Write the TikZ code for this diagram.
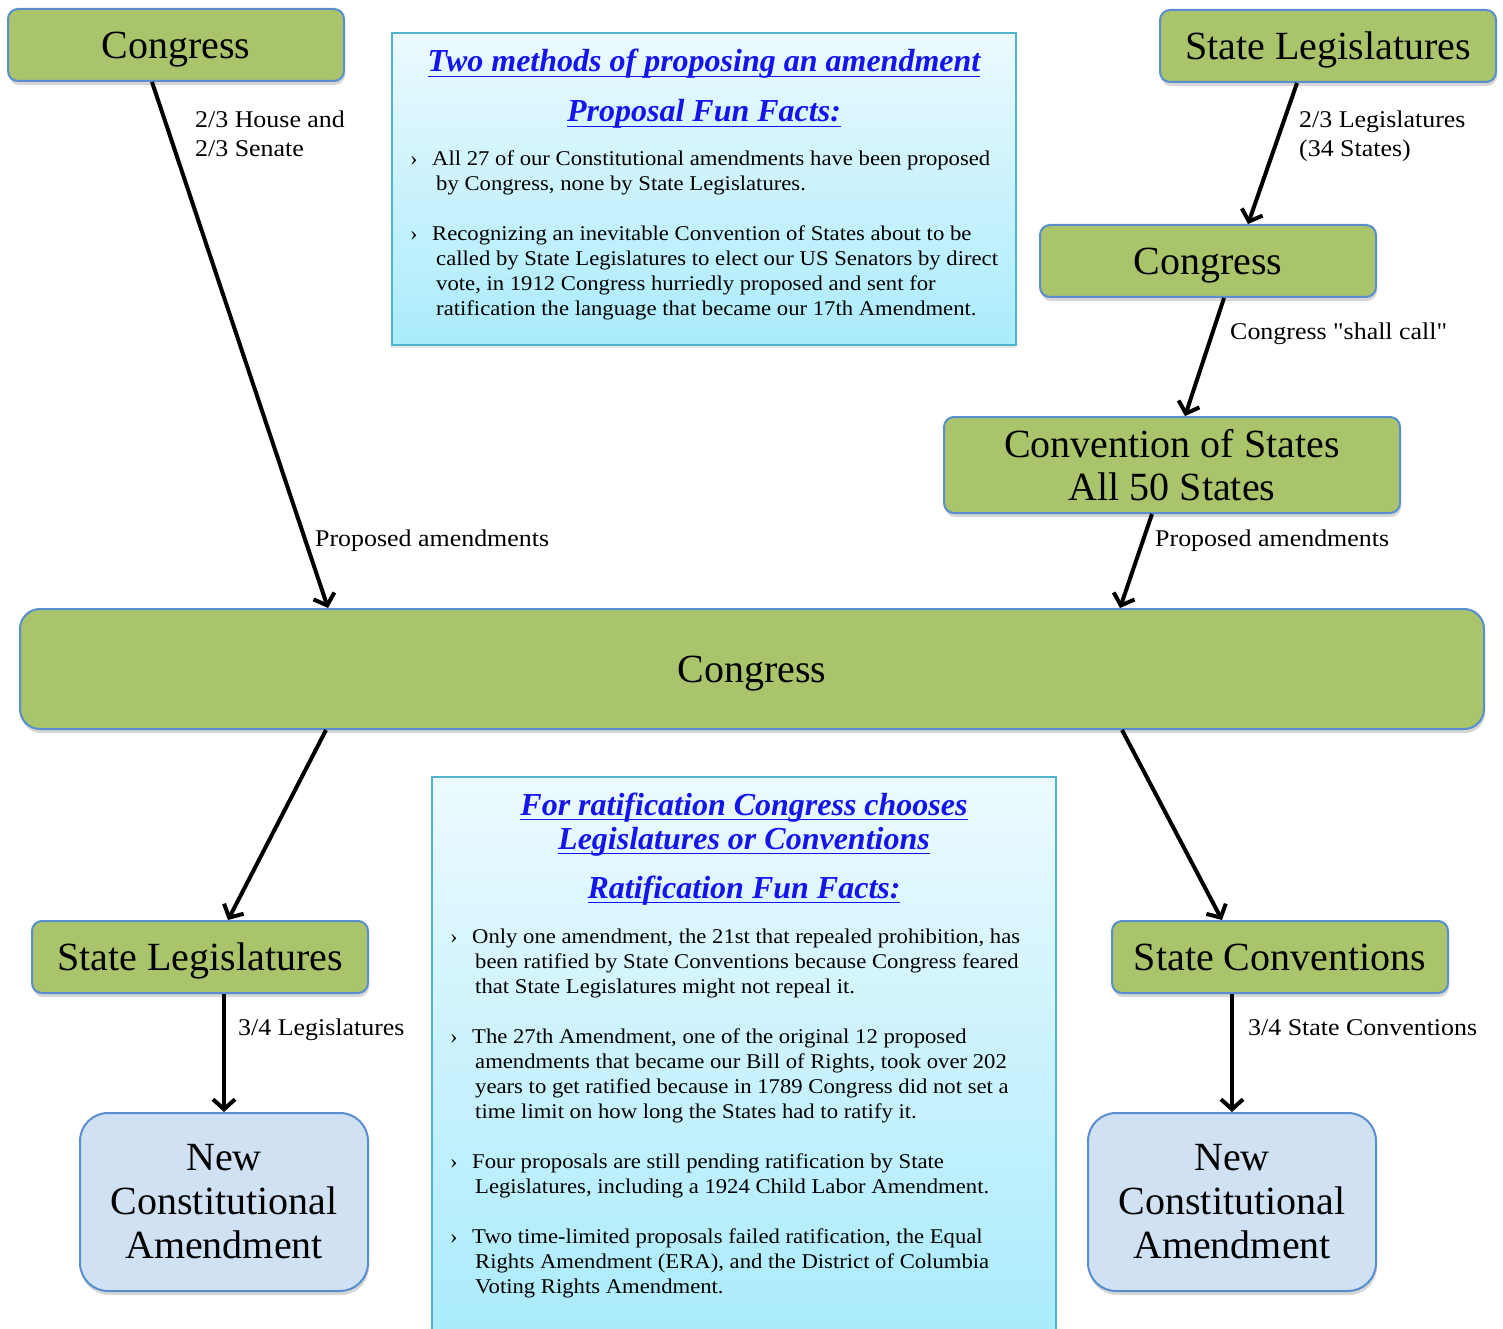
\documentclass[tikz,border=0pt]{standalone}
\usepackage{fontspec}
\setmainfont{Liberation Serif}
\newfontfamily\lblfamily{Liberation Serif}[FakeStretch=1.08]
\usetikzlibrary{arrows.meta,shadows}

\definecolor{boxgreen}{RGB}{170,196,108}
\definecolor{boxedge}{RGB}{90,141,206}
\definecolor{amendblue}{RGB}{208,225,243}
\definecolor{factedge}{RGB}{80,180,206}
\definecolor{facttop}{RGB}{236,250,254}
\definecolor{factbottom}{RGB}{170,235,252}
\definecolor{headblue}{RGB}{20,20,238}

\newcommand\hdfont{\bfseries\itshape\fontsize{32}{34}\selectfont}
\newcommand\factfont{\lblfamily\fontsize{21}{25}\selectfont}
\newcommand\hdline[1]{\setbox0\hbox{#1}\leavevmode\rlap{\rule[-5pt]{\wd0}{1.2pt}}\box0}

\begin{document}
\begin{tikzpicture}[
    x=1pt,y=-1pt,
    govbox/.style={rectangle,rounded corners=10pt,draw=boxedge,line width=2pt,fill=boxgreen,minimum width=336pt,minimum height=72pt,align=center,text depth=0pt,font=\fontsize{40}{43}\selectfont,drop shadow={shadow xshift=1pt,shadow yshift=-4pt,fill=black!40,opacity=0.4}},
    amendbox/.style={govbox,rounded corners=28pt,fill=amendblue,minimum width=288pt,minimum height=178pt,text depth=,font=\fontsize{40}{44}\selectfont},
    factbox/.style={rectangle,draw=factedge,line width=1.6pt,top color=facttop,bottom color=factbottom,minimum width=624pt,drop shadow={shadow xshift=-1pt,shadow yshift=-3pt,fill=black!30,opacity=0.3}},
    hdtext/.style={anchor=base,inner sep=0pt,text=headblue,font=\hdfont},
    facttext/.style={anchor=base west,inner sep=0pt,align=left,font=\factfont},
    lbl/.style={anchor=base west,inner sep=0pt,align=left,font=\lblfamily\fontsize{24}{29}\selectfont},
    flow/.style={line width=4pt,-{Straight Barb[length=10pt,width=22pt]}}
]
\useasboundingbox (0,0) rectangle (1503,1329);

% Proposal side
\node[govbox] (congA) at (176,45) {Congress};
\node[govbox] (stlegA) at (1328,46) {State Legislatures};
\node[govbox] (congB) at (1208,261) {Congress};
\node[govbox,minimum width=456pt,minimum height=96pt,text depth=] (conv) at (1172,465) {Convention of States\\All 50 States};

% Congress in the middle
\node[govbox,minimum width=1464pt,minimum height=120pt,rounded corners=20pt] (congress) at (752,669) {Congress};

% Ratification side
\node[govbox] (stlegB) at (200,957) {State Legislatures};
\node[govbox] (stconv) at (1280,957) {State Conventions};
\node[amendbox] (newA) at (224,1202) {New\\Constitutional\\Amendment};
\node[amendbox] (newB) at (1232,1202) {New\\Constitutional\\Amendment};

% Proposal fun facts (multi-line texts sit on their last baseline)
\node[factbox,minimum height=312pt] (propbox) at (704,189) {};
\node[hdtext] (prophead) at (704,72) {\hdline{Two methods of proposing an amendment}};
\node[hdtext] (propfun) at (704,122) {\hdline{Proposal Fun Facts:}};
\node[facttext] (propdotA) at (410,166) {›};
\node[facttext] (propfactA) at (432,191) {All 27 of our Constitutional amendments have been proposed\\\hspace*{4pt}by Congress, none by State Legislatures.};
\node[facttext] (propdotB) at (410,241) {›};
\node[facttext] (propfactB) at (432,316) {Recognizing an inevitable Convention of States about to be\\\hspace*{4pt}called by State Legislatures to elect our US Senators by direct\\\hspace*{4pt}vote, in 1912 Congress hurriedly proposed and sent for\\\hspace*{4pt}ratification the language that became our 17th Amendment.};

% Ratification fun facts
\node[factbox,minimum height=556pt] (ratbox) at (744,1055) {};
\node[hdtext] (rathead) at (744,815) {\hdline{For ratification Congress chooses}};
\node[hdtext] (ratheadB) at (744,849) {\hdline{Legislatures or Conventions}};
\node[hdtext] (ratfun) at (744,898) {\hdline{Ratification Fun Facts:}};
\node[facttext] (ratdotA) at (450,943) {›};
\node[facttext] (ratfactA) at (472,993) {Only one amendment, the 21st that repealed prohibition, has\\\hspace*{3pt}been ratified by State Conventions because Congress feared\\\hspace*{3pt}that State Legislatures might not repeal it.};
\node[facttext] (ratdotB) at (450,1043) {›};
\node[facttext] (ratfactB) at (472,1118) {The 27th Amendment, one of the original 12 proposed\\\hspace*{3pt}amendments that became our Bill of Rights, took over 202\\\hspace*{3pt}years to get ratified because in 1789 Congress did not set a\\\hspace*{3pt}time limit on how long the States had to ratify it.};
\node[facttext] (ratdotC) at (450,1168) {›};
\node[facttext] (ratfactC) at (472,1193) {Four proposals are still pending ratification by State\\\hspace*{3pt}Legislatures, including a 1924 Child Labor Amendment.};
\node[facttext] (ratdotD) at (450,1243) {›};
\node[facttext] (ratfactD) at (472,1293) {Two time-limited proposals failed ratification, the Equal\\\hspace*{3pt}Rights Amendment (ERA), and the District of Columbia\\\hspace*{3pt}Voting Rights Amendment.};

% Arrows
\draw[flow] ([xshift=-24pt]congA.south) -- ([xshift=-424pt]congress.north);
\draw[flow] ([xshift=-31pt]stlegA.south) -- ([xshift=40pt]congB.north);
\draw[flow] ([xshift=16pt]congB.south) -- ([xshift=13pt]conv.north);
\draw[flow] ([xshift=-20pt]conv.south) -- ([xshift=368pt]congress.north);
\draw[flow] ([xshift=-426pt]congress.south) -- ([xshift=28pt]stlegB.north);
\draw[flow] ([xshift=370pt]congress.south) -- ([xshift=-58pt]stconv.north);
\draw[flow] (stlegB.south -| newA.north) -- (newA.north);
\draw[flow] (stconv.south -| newB.north) -- (newB.north);

% Arrow labels
\node[lbl] (houselbl) at (195,157) {2/3 House and\\2/3 Senate};
\node[lbl] (statelbl) at (1299,157) {2/3 Legislatures\\(34 States)};
\node[lbl] (calllbl) at (1230,339) {Congress {\char34}shall call{\char34}};
\node[lbl] (propA) at (315,546) {Proposed amendments};
\node[lbl] (propB) at (1155,546) {Proposed amendments};
\node[lbl] (legratlbl) at (238,1035) {3/4 Legislatures};
\node[lbl] (convratlbl) at (1248,1035) {3/4 State Conventions};
\end{tikzpicture}
\end{document}
